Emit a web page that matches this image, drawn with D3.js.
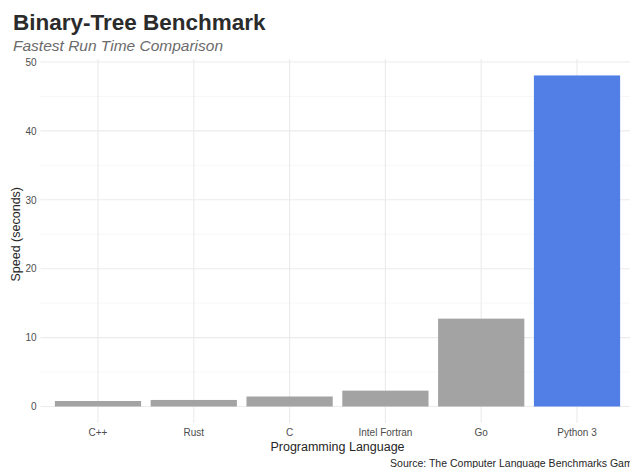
<!DOCTYPE html>
<html>
<head>
<meta charset="utf-8">
<script src="https://cdn.jsdelivr.net/npm/d3@7"></script>
<style>
  body { margin: 0; background: #fff; }
  svg { display: block; font-family: "Liberation Sans", Arial, sans-serif; }
</style>
</head>
<body>
<svg id="chart" width="630" height="468"></svg>
<script>
const languages = ['C++', 'Rust', 'C', 'Intel Fortran', 'Go', 'Python 3']
const speeds = [0.8, 0.95, 1.45, 2.3, 12.75, 48.05]
const highlight = ['Python 3']
const y_ticks = [0, 10, 20, 30, 40, 50]
const y_minor = [5, 15, 25, 35, 45]

const svg = d3.select('#chart')
const p_left = 40.5, p_right = 634.5, p_top = 62, p_bottom = 406.5

// ggplot style: centres at 1..n, limits n +/- 0.6, bar width 0.9
const x = d3.scaleBand()
  .domain(languages)
  .range([p_left, p_right])
  .paddingInner(0.1)
  .paddingOuter(0.15)

const y = d3.scaleLinear()
  .domain([0, 50])
  .range([p_bottom, p_top])

// panel limits with the 5% expansion
const y_max = d3.max(speeds)
const y_lo = y(-0.05 * y_max), y_hi = y(1.05 * y_max)

// minor grid
svg.selectAll('.minor')
  .data(y_minor)
  .enter()
  .append('line')
  .attr('x1', p_left).attr('x2', p_right)
  .attr('y1', d => y(d)).attr('y2', d => y(d))
  .attr('stroke', '#f2f2f2')
  .attr('stroke-width', 0.6)

// major grid
svg.selectAll('.major')
  .data(y_ticks)
  .enter()
  .append('line')
  .attr('x1', p_left).attr('x2', p_right)
  .attr('y1', d => y(d)).attr('y2', d => y(d))
  .attr('stroke', '#ebebeb')
  .attr('stroke-width', 1.1)

svg.selectAll('.vgrid')
  .data(languages)
  .enter()
  .append('line')
  .attr('x1', d => x(d) + x.bandwidth() / 2)
  .attr('x2', d => x(d) + x.bandwidth() / 2)
  .attr('y1', y_hi).attr('y2', y_lo)
  .attr('stroke', '#ebebeb')
  .attr('stroke-width', 1.1)

// bars
svg.selectAll('.bar')
  .data(languages)
  .enter()
  .append('rect')
  .attr('x', d => x(d))
  .attr('width', x.bandwidth())
  .attr('y', (d, i) => y(speeds[i]))
  .attr('height', (d, i) => y(0) - y(speeds[i]))
  .attr('fill', d => highlight.includes(d) ? '#527fe6' : '#a3a3a3')

// y axis labels
const yAxis = svg.append('g')
  .attr('transform', `translate(${p_left},0)`)
  .call(d3.axisLeft(y).tickValues(y_ticks).tickSize(0).tickPadding(4))
yAxis.select('.domain').remove()
yAxis.selectAll('text')
  .attr('fill', '#4d4d4d')
  .attr('font-size', 10)
  .attr('font-family', '"Liberation Sans", Arial, sans-serif')

// x axis labels
const xAxis = svg.append('g')
  .attr('transform', `translate(0,${p_bottom})`)
  .call(d3.axisBottom(x).tickSize(0).tickPadding(22))
xAxis.select('.domain').remove()
xAxis.selectAll('text')
  .attr('fill', '#4d4d4d')
  .attr('font-size', 10)
  .attr('font-family', '"Liberation Sans", Arial, sans-serif')

// titles
svg.append('text')
  .attr('x', 13).attr('y', 30)
  .attr('font-size', 22.5).attr('font-weight', 'bold')
  .attr('fill', '#2b2b2b')
  .text('Binary-Tree Benchmark')

svg.append('text')
  .attr('x', 13).attr('y', 51)
  .attr('font-size', 15.5).attr('font-style', 'italic')
  .attr('fill', '#6b6b6b')
  .text('Fastest Run Time Comparison')

svg.append('text')
  .attr('x', (p_left + p_right) / 2).attr('y', 451)
  .attr('text-anchor', 'middle')
  .attr('font-size', 12.5)
  .attr('fill', '#262626')
  .text('Programming Language')

svg.append('text')
  .attr('transform', `translate(20,${(p_top + p_bottom) / 2}) rotate(-90)`)
  .attr('text-anchor', 'middle')
  .attr('font-size', 12.5)
  .attr('fill', '#262626')
  .text('Speed (seconds)')

svg.append('text')
  .attr('x', p_right + 4).attr('y', 467)
  .attr('text-anchor', 'end')
  .attr('font-size', 10.5)
  .attr('fill', '#262626')
  .text('Source: The Computer Language Benchmarks Game')
</script>
</body>
</html>
